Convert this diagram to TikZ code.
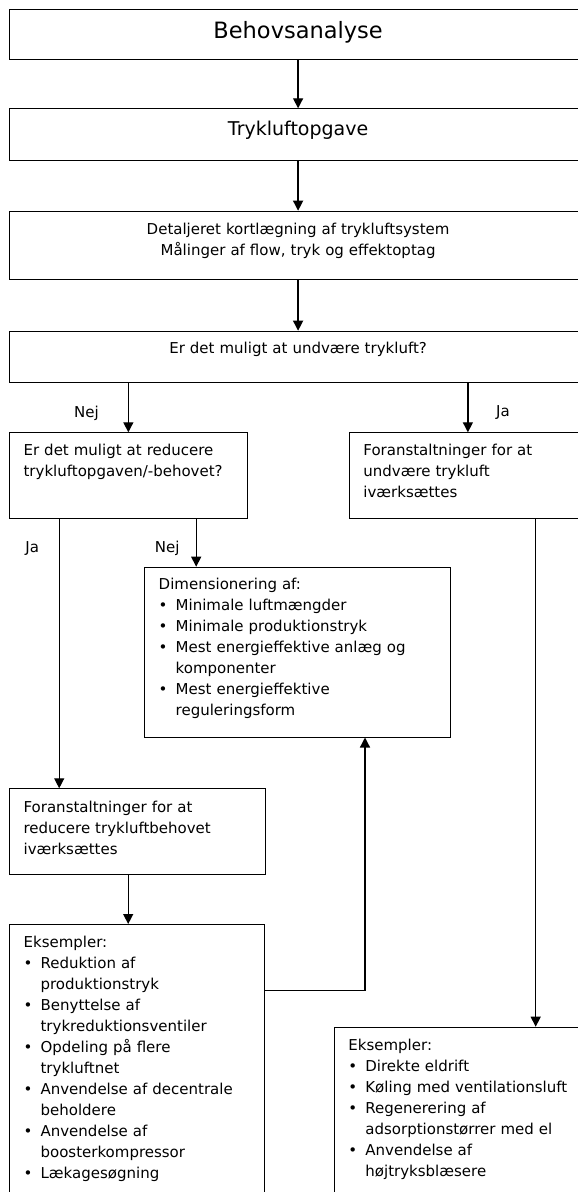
\documentclass[tikz,border=0pt]{standalone}
\usepackage{fontspec}
\setmainfont{DejaVu Sans}
\usetikzlibrary{arrows.meta,positioning}

\newcommand\punkt[1]{\par\hangindent=17pt\hangafter=1\noindent\makebox[17pt][l]{\textbullet}#1}

\begin{document}
\begin{tikzpicture}[x=1pt, y=-1pt,
    kasse/.style={draw, line width=0.8pt, anchor=north west, inner xsep=14pt, inner ysep=0pt,
        text height=23pt, align=left, font=\fontsize{15}{21}\selectfont},
    bred/.style={kasse, text width=549pt, align=center},
    pil/.style={-{Triangle[length=10pt,width=10pt]}, line width=1.3pt},
    svar/.style={inner sep=0pt, font=\fontsize{15}{21}\selectfont}]

    \useasboundingbox (0,0) rectangle (578,1192);
    \clip (0,0) rectangle (578,1192);

    % top column
    \node[bred, text height=29.3pt, text depth=21.4pt, font=\fontsize{22.5}{27}\selectfont] (behov) at (9.2,8.5) {Behovsanalyse};
    \node[bred, text height=26.7pt, text depth=25pt, font=\fontsize{19}{23}\selectfont] (opgave) at (9.2,108.3) {Trykluftopgave};
    \node[bred, text height=23.6pt, text depth=44.7pt] (kort) at (9.2,210.7) {Detaljeret kortlægning af trykluftsystem\\Målinger af flow, tryk og effektoptag};
    \node[bred, text height=22.6pt, text depth=28.4pt] (undvaer) at (9.2,330.7) {Er det muligt at undvære trykluft?};

    % branches
    \node[kasse, text width=209.5pt, text depth=63pt] (reducer) at (9.2,432.3) {Er det muligt at reducere\\trykluftopgaven/-behovet?};
    \node[kasse, text width=209pt, text depth=63pt] (undgaa) at (349,432.3) {Foranstaltninger for at\\undvære trykluft\\iværksættes};
    \node[kasse, text width=277.7pt, text height=22.6pt, text depth=147.4pt] (dim) at (144.3,566.7) {Dimensionering af:
        \punkt{Minimale luftmængder}
        \punkt{Minimale produktionstryk}
        \punkt{Mest energieffektive anlæg og\newline komponenter}
        \punkt{Mest energieffektive\newline reguleringsform}\par};
    \node[kasse, text width=227.8pt, text height=23.4pt, text depth=62.6pt] (tiltag) at (9.2,788.3) {Foranstaltninger for at\\reducere trykluftbehovet\\iværksættes};
    \node[kasse, text width=227pt, text height=22.7pt, text depth=290pt] (eksA) at (9.2,924) {Eksempler:
        \punkt{Reduktion af\newline produktionstryk}
        \punkt{Benyttelse af\newline trykreduktionsventiler}
        \punkt{Opdeling på flere\newline trykluftnet}
        \punkt{Anvendelse af decentrale\newline beholdere}
        \punkt{Anvendelse af\newline boosterkompressor}
        \punkt{Lækagesøgning}\par};
    \node[kasse, text width=238pt, text height=23.3pt, text depth=200pt] (eksB) at (334,1026.7) {Eksempler:
        \punkt{Direkte eldrift}
        \punkt{Køling med ventilationsluft}
        \punkt{Regenerering af\newline adsorptionstørrer med el}
        \punkt{Anvendelse af\newline højtryksblæsere}\par};

    \coordinate (knaek) at (365,990.7);

    \foreach \a/\b in {behov/opgave, opgave/kort, kort/undvaer}{
        \draw[pil] (\a.south) -- (\b.north);
    }

    \draw[pil] (undvaer.south -| reducer.north) -- node[svar, pos=0.62, left=29pt] {Nej} (reducer.north);
    \draw[pil] (undvaer.south -| undgaa.north) -- node[svar, pos=0.6, right=27.6pt] {Ja} (undgaa.north);
    \draw[pil] ([xshift=50pt]reducer.south west) -- node[svar, pos=0.11, left=19.6pt] {Ja} ([xshift=50pt]reducer.south west |- tiltag.north);
    \draw[pil] ([xshift=187pt]reducer.south west) -- node[svar, pos=0.62, left=16pt] {Nej} ([xshift=187pt]reducer.south west |- dim.north);
    \draw[pil] ([xshift=119pt]tiltag.south west) -- ([xshift=119pt]tiltag.south west |- eksA.north);
    \draw[pil] (eksA.east |- knaek) -- (knaek) -- (dim.south -| knaek);
    \draw[pil] ([xshift=186.7pt]undgaa.south west) -- ([xshift=186.7pt]undgaa.south west |- eksB.north);

\end{tikzpicture}
\end{document}
